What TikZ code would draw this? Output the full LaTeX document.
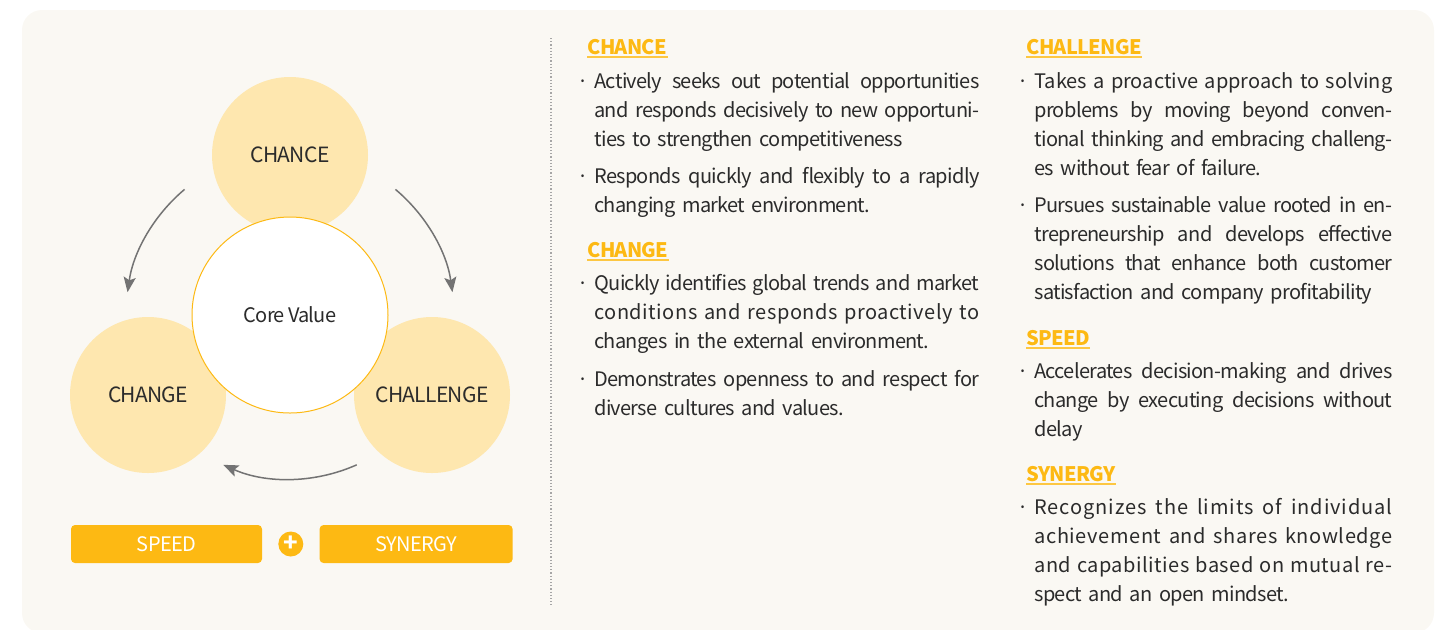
\documentclass[tikz,border=0pt]{standalone}
\usepackage{fontspec}
\setmainfont[LetterSpace=-3.5,WordSpace=0.85]{Noto Sans CJK KR}
\usetikzlibrary{positioning,arrows.meta}
\definecolor{cpanel}{HTML}{FAF8F3}
\definecolor{cyel}{HTML}{FDB913}
\definecolor{clight}{HTML}{FEE7AF}
\definecolor{cink}{HTML}{2B2B2B}
\definecolor{carrow}{HTML}{737373}
\newlength\colw
\newcommand\jl[1]{\makebox[\colw][s]{\spaceskip=\fontdimen2\font plus 4pt minus 1pt\relax#1}}
% justified line set with wider tracking
\newcommand\jls[2]{\makebox[\colw][s]{\addfontfeature{LetterSpace=#1}%
  \spaceskip=\fontdimen2\font plus 4pt minus 1pt\relax#2}}
\newcommand\bul{\llap{·\hspace{3pt}}}

\begin{document}
\begin{tikzpicture}[x=0.5pt,y=0.5pt,>={Stealth[length=7.5pt,width=6pt,inset=1.5pt]},
  font=\fontsize{10}{14.5}\selectfont,text=cink,
  petal/.style={circle,fill=clight,minimum size=78pt,inner sep=0pt,
                font=\fontsize{10.5}{12}\selectfont},
  core/.style={circle,fill=white,draw=cyel,line width=0.5pt,minimum size=98pt,
               inner sep=0pt},
  tag/.style={fill=cyel,rounded corners=2pt,text=white,minimum height=19pt,
              inner sep=0pt,font=\fontsize{10}{12}\selectfont},
  plusdot/.style={circle,fill=cyel,minimum size=12.5pt,inner sep=0pt,text=white,
                  font=\bfseries\fontsize{12}{12}\selectfont},
  flow/.style={->,draw=carrow,line width=0.75pt},
  head/.style={anchor=base west,inner sep=0pt,text=cyel,
               font=\bfseries\fontsize{10}{12}\selectfont},
  itemA/.style={anchor=north west,inner sep=0pt,text width=192.5pt,align=left,
                execute at begin node={\setlength\colw{192.5pt}\noindent\strut}},
  itemB/.style={itemA,text width=179pt,
                execute at begin node={\setlength\colw{179pt}}}]
\useasboundingbox (0,0) rectangle (1444,-629);
\fill[cpanel,rounded corners=10pt] (22,-10) rectangle (1434,-633);

% cycle of values
\node[petal] (chance) at (290,-155) {CHANCE};
\node[petal] (change) at (148,-395) {CHANGE};
\node[petal] (challenge) at (432,-395) {CHALLENGE};
\node[core] (core) at (290,-315) {Core Value};
\draw[flow] (core.center) ++(130:164) arc[start angle=130,end angle=172,radius=164];
\draw[flow] (core.center) ++(50:164) arc[start angle=50,end angle=8,radius=164];
\draw[flow] (core.center) ++(-66:164) arc[start angle=-66,end angle=-114,radius=164];

\node[tag,minimum width=95.5pt] (speed) at (166.5,-544) {SPEED};
\node[plusdot,right=7.75pt of speed] (plus) {+};
\node[tag,minimum width=96.5pt,right=7.75pt of plus] (synergy) {SYNERGY};

\draw[gray!70,line width=0.6pt,dash pattern=on 0.6pt off 1pt] (551,-38) -- (551,-605);

% descriptions
\node[head] (hchance) at (587,-54) {CHANCE};
\node[head] (hchange) at (587,-257) {CHANGE};
\node[head] (hchallenge) at (1026,-54) {CHALLENGE};
\node[head] (hspeed) at (1026,-345) {SPEED};
\node[head] (hsynergy) at (1026,-481) {SYNERGY};
\foreach \h in {hchance,hchange,hchallenge,hspeed,hsynergy}
  \draw[cyel!80,line width=0.6pt] ([yshift=-1.5pt]\h.base west) -- ([yshift=-1.5pt]\h.base east);

\node[itemA] (ch1) at (594,-67.7) {\bul\jl{Actively seeks out potential opportunities}\\
  \jl{and responds decisively to new opportuni-}\\ties to strengthen competitiveness};
\node[itemA] (ch2) at (594,-163) {\bul\jl{Responds quickly and flexibly to a rapidly}\\
  changing market environment.};
\node[itemA] (cg1) at (594,-269.7) {\bul\jl{Quickly identifies global trends and market}\\
  \jls{2.5}{conditions and responds proactively to}\\changes in the external environment.};
\node[itemA] (cg2) at (594,-365.7) {\bul\jl{Demonstrates openness to and respect for}\\
  diverse cultures and values.};

\node[itemB] (cl1) at (1034,-67.7) {\bul\jls{0}{Takes a proactive approach to solving}\\
  \jl{problems by moving beyond conven-}\\\jl{tional thinking and embracing challeng-}\\
  es without fear of failure.};
\node[itemB] (cl2) at (1034,-192) {\bul\jl{Pursues sustainable value rooted in en-}\\
  \jl{trepreneurship and develops effective}\\\jl{solutions that enhance both customer}\\
  satisfaction and company profitability};
\node[itemB] (sp1) at (1034,-358) {\bul\jl{Accelerates decision-making and drives}\\
  \jl{change by executing decisions without}\\delay};
\node[itemB] (sy1) at (1034,-494) {\bul\jls{4.5}{Recognizes the limits of individual}\\
  \jls{3}{achievement and shares knowledge}\\\jls{2.5}{and capabilities based on mutual re-}\\
  spect and an open mindset.};
\end{tikzpicture}
\end{document}
